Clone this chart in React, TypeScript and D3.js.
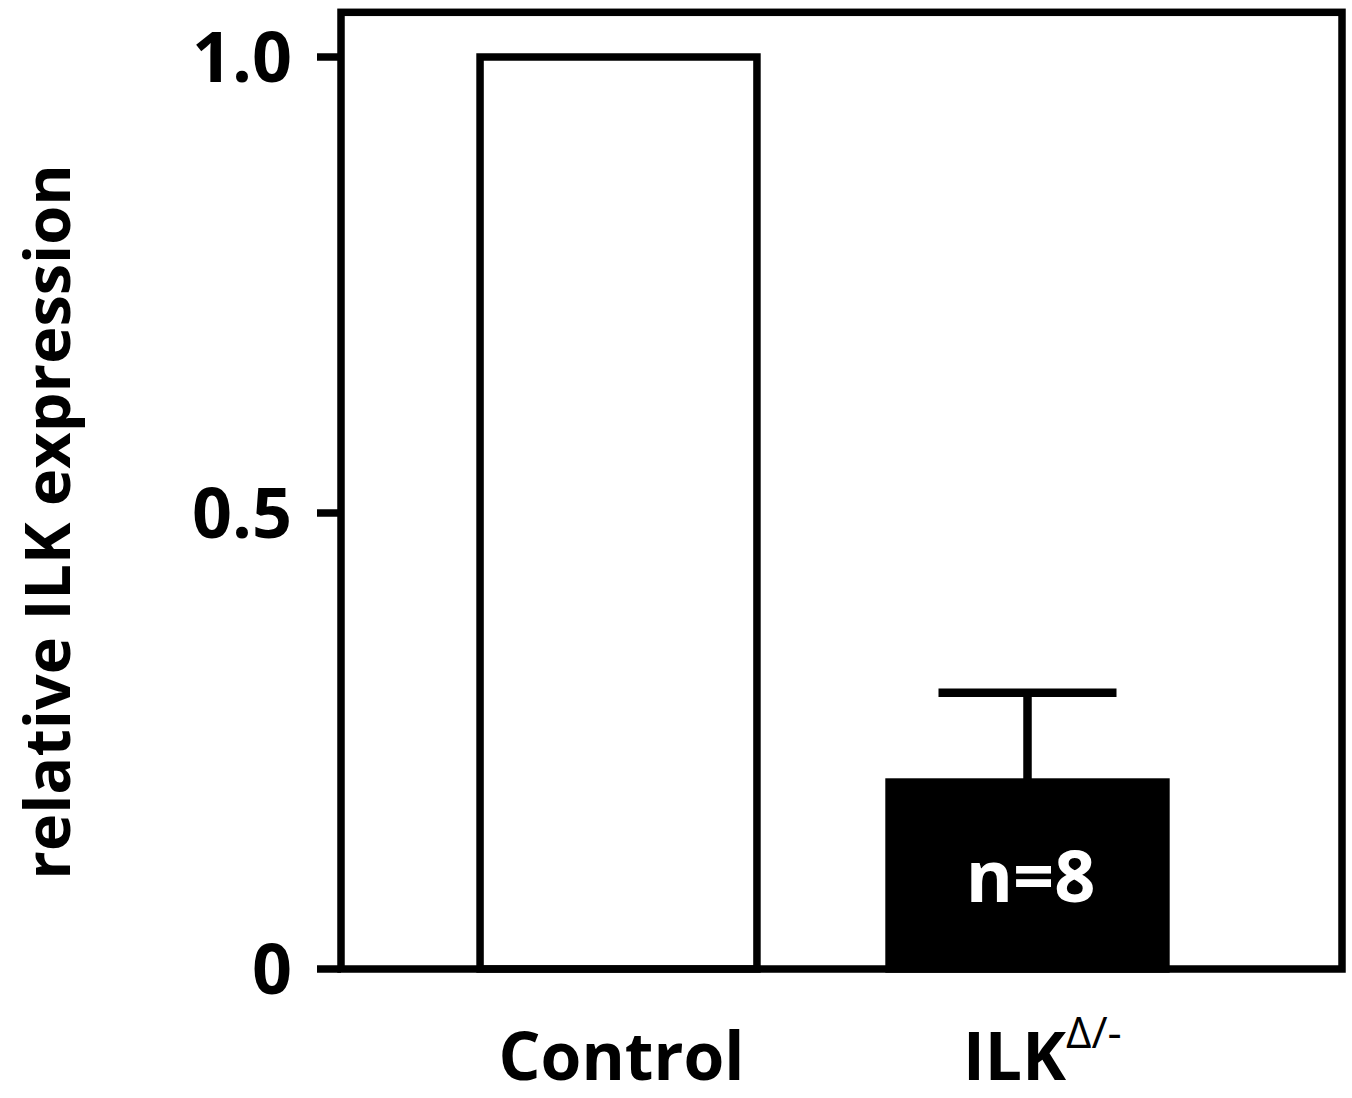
import React from "react";
import * as d3 from "d3";

const categories = ["Control", "ILK"];
const values = [1.0, 0.205];
const errors = [0, 0.098];
const fills = ["#ffffff", "#000000"];
const yTicks = [0, 0.5, 1.0];
const yTickLabels = ["0", "0.5", "1.0"];
const barLabels = ["", "n=8"];

const W = 1352;
const H = 1098;
const FONT = "'Open Sans', 'DejaVu Sans', sans-serif";

export default function App() {
  const frameLeft = 341;
  const frameRight = 1342;
  const y = d3.scaleLinear().domain([0, 1.0]).range([969, 57]);
  const frameTop = y(1.049);
  const x = d3
    .scaleBand<string>()
    .domain(categories)
    .range([414, 1232])
    .paddingInner(0.323)
    .paddingOuter(0.1615);
  const bw = x.bandwidth();
  const lw = 7.5;

  return (
    <svg
      width={W}
      height={H}
      style={{ position: "absolute", left: 0, top: 0, background: "#fff" }}
      fontFamily={FONT}
    >
      <rect x={0} y={0} width={W} height={H} fill="#fff" />
      {/* bars */}
      {categories.map((c, i) => {
        const x0 = x(c)!;
        const cx = x0 + bw / 2;
        const top = y(values[i]);
        const errTop = y(values[i] + errors[i]);
        return (
          <g key={c}>
            {errors[i] > 0 && (
              <g stroke="#000" strokeWidth={lw + 1}>
                <line x1={cx} x2={cx} y1={top} y2={errTop} />
                <line x1={cx - 89} x2={cx + 89} y1={errTop} y2={errTop} />
              </g>
            )}
            <rect
              x={x0}
              y={top}
              width={bw}
              height={y(0) - top}
              fill={fills[i]}
              stroke="#000"
              strokeWidth={lw}
            />
            {barLabels[i] && (
              <text
                x={cx + 3}
                y={902}
                textAnchor="middle"
                fill="#fff"
                fontWeight={700}
                fontSize={72}
              >
                {barLabels[i]}
              </text>
            )}
          </g>
        );
      })}
      {/* frame */}
      <rect
        x={frameLeft}
        y={frameTop}
        width={frameRight - frameLeft}
        height={y(0) - frameTop}
        fill="none"
        stroke="#000"
        strokeWidth={lw}
      />
      {/* y ticks */}
      {yTicks.map((t, i) => (
        <g key={t}>
          <line
            x1={317}
            x2={frameLeft}
            y1={y(t)}
            y2={y(t)}
            stroke="#000"
            strokeWidth={lw}
          />
          <text
            x={292}
            y={y(t) + 25}
            textAnchor="end"
            fontWeight={700}
            fontSize={70}
            fill="#000"
          >
            {yTickLabels[i]}
          </text>
        </g>
      ))}
      {/* y title */}
      <text
        transform={`translate(70, 522) rotate(-90)`}
        textAnchor="middle"
        fontWeight={700}
        fontSize={63}
        fill="#000"
      >
        relative ILK expression
      </text>
      {/* x labels */}
      <text
        x={x("Control")! + bw / 2 + 3}
        y={1080}
        textAnchor="middle"
        fontWeight={700}
        fontSize={66}
        fill="#000"
      >
        Control
      </text>
      <text x={963} y={1080} fontWeight={700} fontSize={66} fill="#000">
        ILK
        <tspan fontWeight={400} fontSize={44} dy={-32}>
          Δ/-
        </tspan>
      </text>
    </svg>
  );
}
